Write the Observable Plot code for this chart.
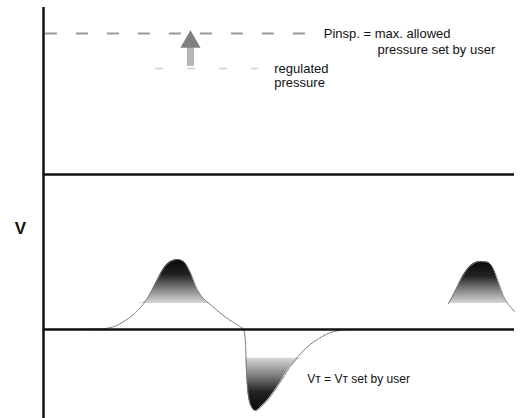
<!DOCTYPE html>
<html><head><meta charset="utf-8">
<script src="https://cdn.jsdelivr.net/npm/d3@7"></script>
<script src="https://cdn.jsdelivr.net/npm/@observablehq/plot@0.6"></script>
<style>body{margin:0;background:#fff}</style>
</head><body><div id="chart"></div>
<script>
// time (arbitrary units) and flow (arbitrary units)
const seg1T = [0,1.21,1.49,1.74,1.95,2.17,2.38,2.55,2.70,2.85,2.99,3.12,3.25,3.40,3.59,3.80,4.01,4.18,4.25,4.29,4.31,4.35,4.42,4.50,4.61,4.78,4.99,5.24,5.52,5.84,6.16,6.48];
const seg1V = [0,0.01,0.04,0.13,0.24,0.41,0.66,0.87,0.97,1.00,0.96,0.81,0.59,0.44,0.33,0.21,0.11,0.04,0,-0.23,-0.59,-0.94,-1.11,-1.16,-1.11,-0.99,-0.79,-0.53,-0.30,-0.13,-0.03,0];
const seg2T = [8.60,8.75,8.90,9.07,9.28,9.43,9.55,9.66,9.77,9.87,10.0];
const seg2V = [0.37,0.56,0.76,0.91,0.97,0.96,0.87,0.67,0.47,0.36,0.26];
const fillTop = 0.37, fillBottom = -0.41;
const pInsp = 4.23, pReg = 3.73, panelLine = 2.214;
const pInspEnd = 5.6, regStart = 2.38, regEnd = 4.56;
const arrowT = 3.12, arrowFrom = 3.76, arrowTo = 4.05, arrowHead = 4.11;
const axisTop = 4.6, yMin = -1.271, yMax = 4.7;
const labels = [
  {t: 5.95, v: 4.23, text: "Pinsp. = max. allowed", size: 13},
  {t: 7.09, v: 4.0, text: "pressure set by user", size: 13},
  {t: 4.9, v: 3.73, text: "regulated", size: 13},
  {t: 4.9, v: 3.53, text: "pressure", size: 13},
  {t: 5.6, v: -0.71, text: "Vᴛ = Vᴛ set by user", size: 12}
];

const flow = [
  ...seg1T.map((t,i) => ({t, v: seg1V[i], seg: 1})),
  ...seg2T.map((t,i) => ({t, v: seg2V[i], seg: 2}))
];

const font = "Liberation Sans, Arial, sans-serif";
const svg = Plot.plot({
  width: 526, height: 418,
  marginLeft: 43, marginRight: 12, marginTop: 0, marginBottom: 0,
  x: {domain: [0, 10], axis: null},
  y: {domain: [yMin, yMax], axis: null},
  style: {fontFamily: font, background: "#fff"},
  marks: [
    Plot.areaY(flow, {x: "t", y1: d => fillTop, y2: d => Math.max(d.v, fillTop), z: "seg", fill: "url(#gpos)", curve: "monotone-x"}),
    Plot.areaY(flow.filter(d => d.seg === 1), {x: "t", y1: d => Math.min(d.v, fillBottom), y2: d => fillBottom, fill: "url(#gneg)", curve: "monotone-x"}),
    Plot.line(flow, {x: "t", y: "v", z: "seg", stroke: "#777", strokeWidth: 1, strokeDasharray: "3,1", curve: "monotone-x"}),
    Plot.ruleY([pInsp], {x1: 0.04, x2: pInspEnd, stroke: "#999", strokeWidth: 2, strokeDasharray: "12,19"}),
    Plot.ruleY([pReg], {x1: regStart, x2: regEnd, stroke: "#d0d0d0", strokeWidth: 1.5, strokeDasharray: "8,24"}),
    Plot.ruleX([arrowT], {y1: arrowFrom, y2: arrowTo, stroke: "#b5b5b5", strokeWidth: 7}),
    Plot.dot([arrowT], {x: d => d, y: d => arrowHead, symbol: "triangle", r: 7.5, fill: "#808080", stroke: "none"}),
    Plot.ruleX([0], {y1: yMin, y2: axisTop, stroke: "#111", strokeWidth: 2.5}),
    Plot.ruleY([0, panelLine], {x1: 0, x2: 10, stroke: "#111", strokeWidth: 2.5}),
    Plot.text(labels, {x: "t", y: "v", text: "text", fontSize: "size", textAnchor: "start", fill: "#111", fontFamily: font}),
    Plot.text(["V"], {x: d => -0.49, y: d => 1.44, text: d => d, fontSize: 17, fontWeight: "bold", fill: "#111", fontFamily: font})
  ]
});
const defs = d3.select(svg).insert("defs", ":first-child");
const gp = defs.append("linearGradient").attr("id", "gpos").attr("x1", 0).attr("y1", 0).attr("x2", 0).attr("y2", 1);
[[0,"#080808"],[0.35,"#222"],[0.65,"#7a7a7a"],[1,"#d8d8d8"]].forEach(([o,c]) => gp.append("stop").attr("offset", o).attr("stop-color", c));
const gn = defs.append("linearGradient").attr("id", "gneg").attr("x1", 0).attr("y1", 1).attr("x2", 0).attr("y2", 0);
[[0,"#080808"],[0.35,"#222"],[0.65,"#7a7a7a"],[1,"#d8d8d8"]].forEach(([o,c]) => gn.append("stop").attr("offset", o).attr("stop-color", c));
document.getElementById("chart").appendChild(svg);
</script>
</body></html>
